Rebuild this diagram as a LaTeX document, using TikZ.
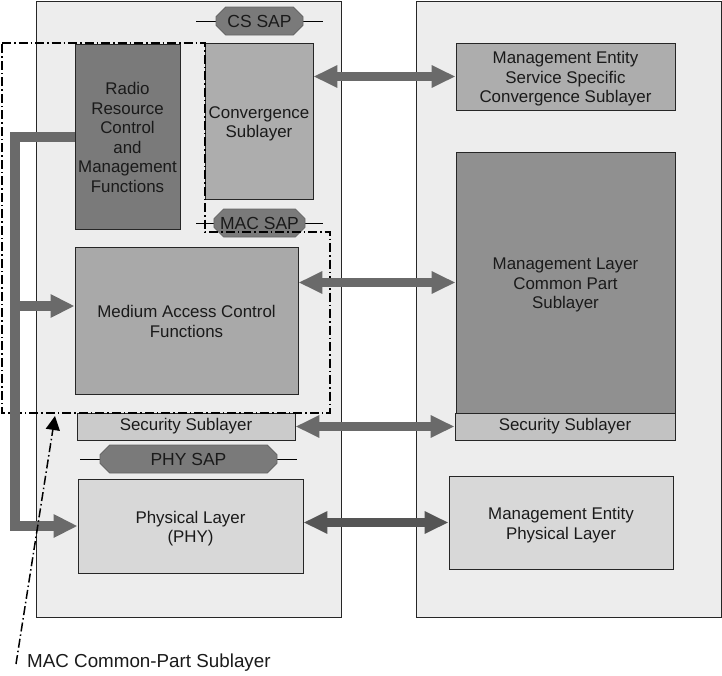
\documentclass[tikz,border=0pt]{standalone}
\usepackage{fontspec}
\setmainfont{Liberation Sans}
\usetikzlibrary{arrows.meta,shapes.misc,calc}
\definecolor{bgbox}{HTML}{EDEDED}
\definecolor{radiofill}{HTML}{7A7A7A}
\definecolor{convfill}{HTML}{ADADAD}
\definecolor{macfill}{HTML}{A9A9A9}
\definecolor{secfill}{HTML}{CBCBCB}
\definecolor{secrfill}{HTML}{C2C2C2}
\definecolor{phyfill}{HTML}{D8D8D8}
\definecolor{mlfill}{HTML}{909090}
\definecolor{sapfill}{HTML}{7A7A7A}
\definecolor{arrowgray}{HTML}{6A6A6A}
\definecolor{arrowdark}{HTML}{555555}
\definecolor{txt}{HTML}{1A1A1A}
\newcommand\mltext[1]{\raisebox{-3pt}[\height][\depth]{\begin{tabular}{@{}c@{}}#1\end{tabular}}}
\begin{document}
\begin{tikzpicture}[x=1pt,y=-1pt,
  blk/.style={draw=black!85,line width=0.9pt,align=center,inner sep=0pt,
    font=\fontsize{16.9}{19.5}\selectfont,text=txt},
  big/.style={draw=black!85,line width=0.9pt,fill=bgbox},
  sap/.style={chamfered rectangle,chamfered rectangle xsep=7pt,draw=black!60,line width=0.8pt,
    fill=sapfill,inner sep=0pt,minimum height=28pt,font=\fontsize{17.5}{19.5}\selectfont,text=txt},
  sapline/.style={draw=black,line width=0.7pt},
  dbl/.style={draw=arrowgray,line width=9pt,{Triangle[length=24pt,width=21pt]}-{Triangle[length=24pt,width=21pt]}},
  ctrl/.style={draw=arrowgray,line width=10pt,line join=miter},
  dashdot/.style={draw=black,line width=1.8pt,dash pattern=on 9pt off 3pt on 1.5pt off 3pt},
  lbl/.style={font=\fontsize{18.8}{21}\selectfont,text=txt,inner sep=0pt}
]
\useasboundingbox (0,0) rectangle (722,675);
% big boxes
\draw[big] (36,1) rectangle (341,617);
\draw[big] (416,1) rectangle (721,617);

% SAP lines
\coordinate (csl) at (196,21); \coordinate (csr) at (323,21);
\coordinate (macl) at (196,223); \coordinate (macr) at (323,223);
\coordinate (phyl) at (80,459); \coordinate (phyr) at (297,459);
\draw[sapline] (csl) -- (csr);
\draw[sapline] (macl) -- (macr);
\draw[sapline] (phyl) -- (phyr);

% blocks
\node[blk,fill=radiofill,minimum width=105pt,minimum height=185pt] (radio) at (127.5,136.5)
  {\mltext{Radio\\Resource\\Control\\and\\Management\\Functions}};
\node[blk,fill=convfill,minimum width=108pt,minimum height=156pt] (conv) at (259,121)
  {\mltext{Convergence\\Sublayer}};
\node[blk,fill=macfill,minimum width=223pt,minimum height=147pt] (mac) at (186.5,320.5)
  {\mltext{Medium Access Control\\Functions}};
\node[blk,fill=secfill,minimum width=218pt,minimum height=27pt] (secl) at (186,426.5)
  {Security Sublayer};
\node[blk,fill=phyfill,minimum width=225pt,minimum height=94pt] (phy) at (190.5,526)
  {\mltext{Physical Layer\\(PHY)}};
\node[blk,fill=convfill,minimum width=219pt,minimum height=67pt] (mecs) at (565.5,76.5)
  {\mltext{Management Entity\\Service Specific\\Convergence Sublayer}};
\node[blk,fill=mlfill,minimum width=219pt,minimum height=261pt] (mlcps) at (565.5,282.5)
  {\mltext{Management Layer\\Common Part\\Sublayer}};
\node[blk,fill=secrfill,minimum width=220pt,minimum height=27pt] (secr) at (565,426.5)
  {Security Sublayer};
\node[blk,fill=phyfill,minimum width=224pt,minimum height=93pt] (mephy) at (561,522.5)
  {\mltext{Management Entity\\Physical Layer}};

% SAPs
\node[sap,minimum width=87pt] (cssap) at (259.5,21) {CS SAP};
\node[sap,minimum width=87pt] (macsap) at (259.5,223) {MAC SAP};
\node[sap,minimum width=177pt] (physap) at (188.5,459) {PHY SAP};

% MAC common part boundary
\draw[dashdot] (2,43) -- (205,43) -- (205,232) -- (330,232) -- (330,413) -- (2,413) -- cycle;

% control path
\coordinate (cbend1) at (15,137);
\coordinate (cbranch) at (15,306);
\coordinate (cbend2) at (15,526);
\draw[ctrl] (radio.west |- cbend1) -- (cbend1) -- (cbend2) -- ++(20,0);
\draw[ctrl,-{Triangle[length=24pt,width=22pt]}] ($(cbend2)+(-5,0)$) -- (phy.west);
\draw[ctrl,-{Triangle[length=24pt,width=22pt]}] ($(cbranch)+(-5,0)$) -- (mac.west |- cbranch);

% double arrows
\draw[dbl] (conv.east |- mecs.west) -- (mecs.west);
\draw[dbl] (mac.east |- mlcps.west) -- (mlcps.west);
\draw[dbl] (secl.east) -- (secr.west);
\draw[dbl,draw=arrowdark] (phy.east |- mephy.west) -- (mephy.west);

% label
\node[lbl,anchor=west] (mcpslbl) at (27,663) {MAC Common-Part Sublayer};
\coordinate (lstart) at (16,664);
\coordinate (ltip) at (55,416);
\draw[dashdot,line width=1.5pt,-{Triangle[length=14pt,width=14pt]}] (lstart) -- (ltip);
\end{tikzpicture}
\end{document}
